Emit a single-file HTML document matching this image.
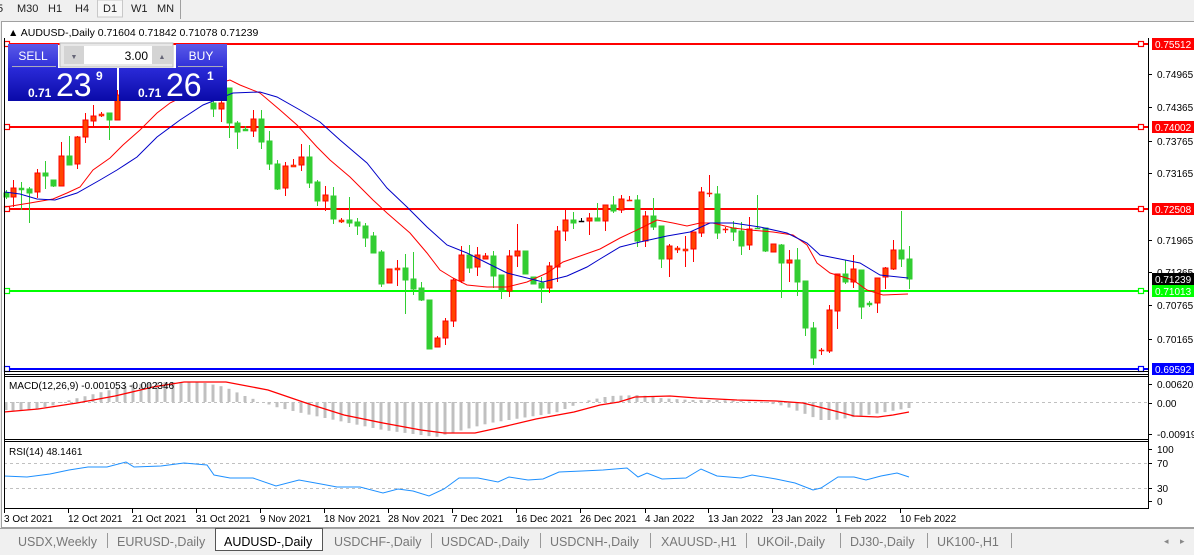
<!DOCTYPE html>
<html><head><meta charset="utf-8"><style>
body{margin:0;width:1194px;height:555px;overflow:hidden;background:#f0f0f0;font-family:"Liberation Sans",sans-serif;}
svg{position:absolute;left:0;top:0}
</style></head><body>
<svg id="s" width="1194" height="555" xmlns="http://www.w3.org/2000/svg" font-family="Liberation Sans, sans-serif">
<rect x="0" y="0" width="1194" height="555" fill="#f0f0f0"/>
<g font-size="11" fill="#222">
<text x="-3" y="12">5</text><text x="17" y="12">M30</text><text x="48" y="12">H1</text><text x="75" y="12">H4</text>
<rect x="97.5" y="0" width="25" height="17" fill="#f7f7f7" stroke="#c8c8c8"/>
<text x="103" y="12">D1</text><text x="131" y="12">W1</text><text x="157" y="12">MN</text>
</g>
<line x1="180.5" y1="0" x2="180.5" y2="19" stroke="#a0a0a0"/>
<rect x="1.5" y="21.5" width="1193" height="506" fill="#fff" stroke="#a0a0a0"/>
<rect x="4" y="23" width="1190" height="503" fill="#fff"/>
<g id="g"></g>
<line x1="4.5" y1="38" x2="4.5" y2="508" stroke="#000"/>
<line x1="1148.5" y1="38" x2="1148.5" y2="509" stroke="#000"/>
<line x1="4" y1="374.5" x2="1148" y2="374.5" stroke="#000"/>
<line x1="4" y1="376.5" x2="1148" y2="376.5" stroke="#000"/>
<line x1="4" y1="439.5" x2="1148" y2="439.5" stroke="#000"/>
<line x1="4" y1="441.5" x2="1148" y2="441.5" stroke="#000"/>
<line x1="4" y1="508.5" x2="1148" y2="508.5" stroke="#000"/>
<text x="8" y="36" font-size="10.5" fill="#000">▲ AUDUSD-,Daily  0.71604 0.71842 0.71078 0.71239</text>
<text x="9" y="389" font-size="10" fill="#000">MACD(12,26,9) -0.001053 -0.002346</text>
<text x="9" y="455" font-size="10" fill="#000">RSI(14) 48.1461</text>
<defs>
<linearGradient id="hb" x1="0" y1="0" x2="0" y2="1"><stop offset="0" stop-color="#5a5ae8"/><stop offset="1" stop-color="#2f2fd8"/></linearGradient>
<linearGradient id="pb" x1="0" y1="0" x2="0" y2="1"><stop offset="0" stop-color="#2a2ad8"/><stop offset="1" stop-color="#0a0aa8"/></linearGradient>
</defs>
<rect x="8" y="44" width="50" height="24" fill="url(#hb)"/>
<rect x="176" y="44" width="51" height="24" fill="url(#hb)"/>
<rect x="60" y="43" width="113" height="24" fill="#e8e8e8" stroke="#bbb"/>
<rect x="64" y="46" width="20" height="18" fill="#d4d4d4"/><rect x="152" y="46" width="20" height="18" fill="#d4d4d4"/>
<rect x="84" y="46" width="68" height="18" fill="#fff"/>
<text x="74" y="59" font-size="7" fill="#667" text-anchor="middle">▼</text><text x="162" y="59" font-size="7" fill="#667" text-anchor="middle">▲</text>
<text x="148" y="60" font-size="12" text-anchor="end" fill="#000">3.00</text>
<text x="33" y="60" font-size="12" fill="#fff" text-anchor="middle">SELL</text>
<text x="201" y="60" font-size="12" fill="#fff" text-anchor="middle">BUY</text>
<line x1="12" y1="66.5" x2="56" y2="66.5" stroke="#aab"/><line x1="178" y1="66.5" x2="223" y2="66.5" stroke="#aab"/>
<rect x="8" y="68" width="109" height="33" fill="url(#pb)"/>
<rect x="119" y="68" width="108" height="33" fill="url(#pb)"/>
<g fill="#fff">
<text x="28" y="97" font-size="12" font-weight="bold">0.71</text>
<text x="56" y="96" font-size="32">23</text>
<text x="96" y="80" font-size="12" font-weight="bold">9</text>
<text x="138" y="97" font-size="12" font-weight="bold">0.71</text>
<text x="166" y="96" font-size="32">26</text>
<text x="207" y="80" font-size="12" font-weight="bold">1</text>
</g>
<g font-size="10" fill="#000" id="ax"></g>
<rect x="0" y="528" width="1194" height="27" fill="#f0f0f0"/>
<line x1="0" y1="528.5" x2="1194" y2="528.5" stroke="#a0a0a0"/>
<rect x="215.5" y="528.5" width="107" height="22" fill="#fff" stroke="#555"/>
<g font-size="12.5" fill="#777" id="tabs"></g>
<text x="1164" y="544" font-size="9" fill="#888">◂</text><text x="1180" y="544" font-size="9" fill="#888">▸</text>
</svg>
<script>
const NS="http://www.w3.org/2000/svg";
const g=document.getElementById('g');
function el(t,a,p){const e=document.createElementNS(NS,t);for(const k in a)e.setAttribute(k,a[k]);(p||g).appendChild(e);return e;}
[[44,'#ff0000'],[127,'#ff0000'],[209,'#ff0000'],[291,'#00ff00'],[369,'#0000ff']].forEach(([y,c])=>{
 el('line',{x1:4,y1:y,x2:1148,y2:y,stroke:c,'stroke-width':2});
 el('rect',{x:4.5,y:y-2.5,width:5,height:5,fill:'#fff',stroke:c,'stroke-width':1.2});
 el('rect',{x:1138.5,y:y-2.5,width:5,height:5,fill:'#fff',stroke:c,'stroke-width':1.2});
});
el('line',{x1:4,y1:371.5,x2:1148,y2:371.5,stroke:'#000'});
const C=[[6,190,199,193,197,'g'],[13,180,207,188,197,'r'],[21,182,210,188,190,'g'],[29,187,223,189,193,'g'],[37,169,198,173,192,'r'],[45,161,189,173,176,'g'],[53,180,187,180,186,'g'],[61,142,186,156,186,'r'],[69,136,165,156,165,'g'],[77,136,169,137,164,'r'],[85,113,143,120,137,'r'],[93,105,127,116,121,'r'],[101,112,117,114,116,'r'],[109,113,140,113,120,'g'],[117,90,120,95,120,'r'],
[125,76,98,80,95,'r'],[133,74,95,78,90,'r'],[141,72,92,74,85,'g'],[149,72,90,74,80,'r'],[157,71,85,73,78,'r'],[165,71,82,73,78,'g'],[173,71,80,73,78,'r'],[181,71,78,73,77,'r'],[189,72,85,74,80,'g'],[197,72,95,75,90,'g'],[205,72,98,78,95,'r'],
[213,98,117,103,109,'g'],[221,98,122,103,109,'r'],[229,88,138,88,123,'g'],[237,121,149,123,132,'g'],[245,126,131,129,131,'g'],[253,110,137,119,131,'r'],[261,110,149,119,142,'g'],[269,131,170,141,164,'g'],[277,160,190,164,189,'g'],[285,162,196,166,188,'r'],[293,159,167,165,167,'r'],
[301,144,171,157,165,'r'],[309,145,188,157,183,'g'],[317,180,206,182,201,'g'],[325,186,211,195,201,'r'],[333,187,224,196,219,'g'],[341,218,223,220,222,'r'],[349,197,227,220,223,'g'],[357,218,235,222,226,'g'],[365,223,247,226,238,'g'],[373,232,253,236,253,'g'],[381,250,287,252,284,'g'],[389,269,283,269,283,'r'],[397,260,286,268,270,'r'],[405,254,314,268,280,'g'],[413,252,295,279,289,'g'],[421,282,301,288,300,'g'],[429,300,349,300,349,'g'],[437,336,347,338,347,'r'],[445,318,345,321,338,'r'],[453,278,327,280,321,'r'],[461,246,283,255,281,'r'],[469,245,273,255,268,'g'],[477,247,276,255,267,'r'],[485,253,259,256,259,'r'],[493,251,288,256,276,'g'],[501,275,299,275,290,'g'],[509,250,297,256,291,'r'],[517,224,267,251,256,'r'],[525,251,274,251,274,'g'],[533,277,284,277,284,'g'],[541,277,303,283,288,'g'],[549,262,293,266,288,'r'],[557,226,282,231,267,'r'],[565,210,241,220,231,'r'],[573,212,229,220,223,'g'],[581,218,222,221,222,'k'],[589,213,235,218,221,'r'],[597,203,221,218,221,'g'],
[605,205,231,205,221,'r'],[613,196,213,205,211,'g'],[621,195,213,199,210,'r'],[629,196,201,200,201,'r'],[637,195,247,200,241,'g'],[645,211,247,216,241,'r'],[653,198,230,216,227,'g'],[661,226,268,226,259,'g'],[669,244,277,246,259,'r'],[677,246,253,248,250,'r'],[685,236,267,249,251,'r'],[693,232,262,232,249,'r'],[701,187,237,192,233,'r'],[709,175,197,193,194,'r'],[717,186,239,194,233,'g'],[725,227,233,229,230,'r'],[733,221,241,228,232,'g'],[741,222,255,231,246,'g'],[749,217,250,229,245,'r'],[757,195,229,228,229,'g'],[765,228,252,228,251,'g'],[773,244,252,244,252,'r'],[781,244,298,245,263,'g'],[789,250,282,260,263,'r'],[797,248,296,260,282,'g'],[805,281,336,281,328,'g'],[813,322,365,328,358,'g'],[821,348,355,350,351,'r'],[829,305,353,310,351,'r'],[837,274,329,274,311,'r'],[845,260,284,274,282,'g'],[853,255,288,269,282,'r'],[861,270,319,270,307,'g'],[869,301,307,303,305,'g'],[877,278,313,278,303,'r'],[885,267,289,268,277,'r'],[893,240,270,250,269,'r'],[901,211,267,250,259,'g'],[909,246,289,259,279,'g']];
C.forEach(([x,wt,wb,bt,bb,c])=>{
 const col=c=='r'?'#ff0000':c=='g'?'#32cd32':'#000';
 const fill=c=='r'?'#ff4500':c=='g'?'#32cd32':'#000';
 el('line',{x1:x+.5,y1:wt,x2:x+.5,y2:wb,stroke:col});
 const h=Math.max(1,bb-bt);
 el('rect',{x:x-2,y:bt,width:5,height:h,fill:fill,stroke:col,'stroke-width':h>2?1:0.5});
});
function pl(pts,c,w,p){el('polyline',{points:pts.map(a=>a.join(',')).join(' '),fill:'none',stroke:c,'stroke-width':w||1},p);}
pl([[5,207],[30,203],[53,199],[67,193],[80,187],[93,170],[110,158],[123,145],[140,130],[157,113],[170,103],[200,88],[230,80],[240,85],[260,93],[280,110],[297,125],[317,147],[330,160],[350,177],[373,200],[387,213],[410,233],[427,253],[440,270],[453,278],[467,285],[487,287],[507,287],[527,282],[547,273],[563,262],[583,255],[600,249],[620,238],[637,230],[657,220],[673,223],[687,226],[700,223],[713,223],[733,228],[750,230],[773,232],[793,235],[807,245],[817,263],[830,273],[853,280],[867,290],[883,295],[908,294]],'#ff0000');
pl([[5,192],[20,194],[37,199],[55,200],[77,193],[100,180],[117,170],[137,157],[157,137],[180,120],[203,105],[233,93],[260,92],[277,97],[300,110],[320,122],[340,140],[367,163],[387,188],[407,207],[427,227],[447,245],[467,253],[487,263],[507,273],[527,278],[543,282],[567,276],[587,267],[600,259],[620,247],[640,242],[667,236],[690,232],[710,223],[733,223],[760,227],[787,233],[807,243],[820,255],[840,259],[860,263],[880,275],[908,278]],'#0000c8');
el('line',{x1:4,y1:402.5,x2:1148,y2:402.5,stroke:'#c0c0c0','stroke-dasharray':'3,3'});
const H=[[5,410],[20,411],[40,408],[55,405],[70,400],[90,395],[110,390],[130,385],[160,382],[200,382],[225,387],[245,396],[262,402],[276,407],[306,414],[344,422],[383,430],[436,437],[459,431],[490,423],[528,417],[555,413],[575,405],[590,400],[610,396],[640,395],[660,398],[690,400],[720,400],[760,402],[785,406],[803,413],[820,420],[835,420],[860,416],[880,413],[909,408]];
function interp(P,x){for(let i=1;i<P.length;i++){if(x<=P[i][0]){const a=P[i-1],b=P[i];return a[1]+(b[1]-a[1])*(x-a[0])/(b[0]-a[0]);}}return P[P.length-1][1];}
C.forEach(([x])=>{const y=interp(H,x);const t=Math.min(y,402),b=Math.max(y,402);if(b-t>0.5)el('rect',{x:x-1.5,y:t,width:3,height:b-t,fill:'#c0c0c0'});});
pl([[4,412],[38,409],[77,403],[115,396],[153,387],[184,382],[226,382],[268,390],[306,403],[344,415],[383,423],[421,430],[444,433],[475,433],[498,428],[536,419],[574,412],[600,405],[619,402],[635,397],[670,396],[697,398],[737,400],[776,401],[803,403],[831,410],[854,416],[878,417],[893,415],[909,412]],'#ff0000',1.3);
el('line',{x1:4,y1:463.5,x2:1148,y2:463.5,stroke:'#c0c0c0','stroke-dasharray':'3,3'});
el('line',{x1:4,y1:488.5,x2:1148,y2:488.5,stroke:'#c0c0c0','stroke-dasharray':'3,3'});
pl([[4,476],[27,477],[50,474],[69,470],[88,467],[107,467],[126,462],[134,467],[161,466],[184,463],[207,465],[214,475],[230,478],[253,478],[276,486],[299,480],[321,484],[337,487],[360,487],[383,493],[398,489],[413,491],[429,496],[444,489],[459,478],[478,478],[498,482],[509,477],[528,480],[543,479],[559,472],[582,471],[603,470],[627,468],[638,477],[647,473],[662,479],[686,478],[701,469],[717,476],[741,478],[752,475],[776,479],[795,483],[813,490],[821,488],[838,477],[854,477],[866,480],[881,476],[897,473],[909,477]],'#1e90ff');
const ax=document.getElementById('ax');
[['0.74965',74],['0.74365',107],['0.73765',141],['0.73165',173],['0.71965',240],['0.71365',272],['0.70765',305],['0.70165',339],['0.006201',384],['0.00',403],['-0.009197',434],['100',449],['70',463],['30',488],['0',501]].forEach(([t,y])=>{
 el('line',{x1:1148,y1:y+.5,x2:1152,y2:y+.5,stroke:'#000'},ax);
 const e=el('text',{x:1157,y:y+4},ax);e.textContent=t;});
[['0.75512',44,'#ff0000'],['0.74002',127,'#ff0000'],['0.72508',209,'#ff0000'],['0.71239',279,'#000'],['0.71013',291,'#00ff00'],['0.69592',369,'#0000ff']].forEach(([t,y,c])=>{
 el('rect',{x:1152,y:y-6,width:42,height:12,fill:c},ax);
 const e=el('text',{x:1155,y:y+4,fill:'#fff'},ax);e.textContent=t;});
[['3 Oct 2021',4],['12 Oct 2021',68],['21 Oct 2021',132],['31 Oct 2021',196],['9 Nov 2021',260],['18 Nov 2021',324],['28 Nov 2021',388],['7 Dec 2021',452],['16 Dec 2021',516],['26 Dec 2021',580],['4 Jan 2022',645],['13 Jan 2022',708],['23 Jan 2022',772],['1 Feb 2022',836],['10 Feb 2022',900]].forEach(([t,x])=>{
 el('line',{x1:x+.5,y1:508,x2:x+.5,y2:513,stroke:'#000'});
 const e=el('text',{x:x,y:522,'font-size':'10',fill:'#000'});e.textContent=t;});
const tb=document.getElementById('tabs');
[['USDX,Weekly',18],['EURUSD-,Daily',117],['AUDUSD-,Daily',224],['USDCHF-,Daily',334],['USDCAD-,Daily',441],['USDCNH-,Daily',550],['XAUUSD-,H1',661],['UKOil-,Daily',757],['DJ30-,Daily',850],['UK100-,H1',937]].forEach(([t,x],i)=>{
 const e=el('text',{x:x,y:546,fill:i==2?'#000':'#777'},tb);e.textContent=t;});
[107,431,540,650,746,840,927,1011].forEach(x=>el('line',{x1:x+.5,y1:533,x2:x+.5,y2:548,stroke:'#999'},tb));
</script>
</body></html>
